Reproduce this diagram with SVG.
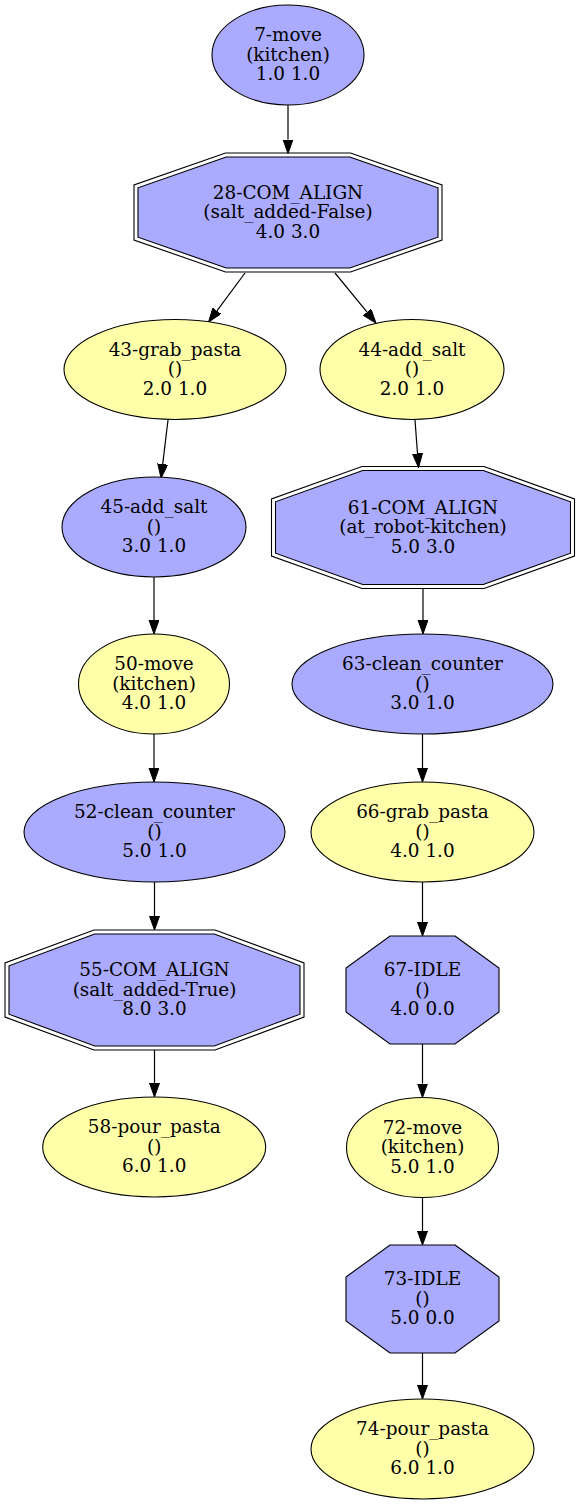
<svg xmlns="http://www.w3.org/2000/svg" width="579" height="1507" viewBox="0 0 579 1507">
<style>
.b{fill:#aaaaff;stroke:#000;stroke-width:1.1}
.y{fill:#ffffaa;stroke:#000;stroke-width:1.1}
.o{fill:none;stroke:#000;stroke-width:1.1}
.e{stroke:#000;stroke-width:1.2;fill:none}
text{font-family:"DejaVu Serif","Liberation Serif",serif;font-size:18.4px;text-anchor:middle;fill:#000}
</style>
<defs>
<marker id="ah" markerUnits="userSpaceOnUse" markerWidth="15" markerHeight="11" refX="0" refY="5" orient="auto" viewBox="0 0 15 11">
<path d="M0,0 L14,5 L0,10 z" fill="#000" stroke="#000" stroke-width="1"/>
</marker>
</defs>
<rect width="579" height="1507" fill="#fff"/>
<g id="connectors">
<line class="e" x1="288" y1="105" x2="288" y2="139.5" marker-end="url(#ah)"/>
<line class="e" x1="245" y1="273" x2="216.9" y2="310.8" marker-end="url(#ah)"/>
<line class="e" x1="335" y1="273" x2="367.1" y2="312.2" marker-end="url(#ah)"/>
<line class="e" x1="168" y1="420" x2="162.7" y2="464.1" marker-end="url(#ah)"/>
<line class="e" x1="415" y1="420" x2="417.5" y2="453.5" marker-end="url(#ah)"/>
<line class="e" x1="154" y1="577" x2="154" y2="620" marker-end="url(#ah)"/>
<line class="e" x1="423" y1="589" x2="423" y2="620" marker-end="url(#ah)"/>
<line class="e" x1="154" y1="734" x2="154" y2="768" marker-end="url(#ah)"/>
<line class="e" x1="422.5" y1="734" x2="422.5" y2="768" marker-end="url(#ah)"/>
<line class="e" x1="154.5" y1="882" x2="154.5" y2="916" marker-end="url(#ah)"/>
<line class="e" x1="422.5" y1="882" x2="422.5" y2="922" marker-end="url(#ah)"/>
<line class="e" x1="154.5" y1="1050" x2="154.5" y2="1083" marker-end="url(#ah)"/>
<line class="e" x1="422.5" y1="1044" x2="422.5" y2="1083.5" marker-end="url(#ah)"/>
<line class="e" x1="422.5" y1="1197" x2="422.5" y2="1231" marker-end="url(#ah)"/>
<line class="e" x1="422.5" y1="1353" x2="422.5" y2="1385" marker-end="url(#ah)"/>
</g>
<g id="n7">
<ellipse class="b" cx="288" cy="55" rx="76" ry="50"/>
<text x="288" y="41">7-move</text><text x="288" y="60.5">(kitchen)</text><text x="288" y="80">1.0 1.0</text>
</g>
<g id="n28">
<polygon class="o" points="350.5,153 442,185 442,240 350.5,272 225.5,272 134,240 134,185 225.5,153"/>
<polygon class="b" points="349.8,157 438,187.8 438,237.2 349.8,268 226.2,268 138,237.2 138,187.8 226.2,157"/>
<text x="288" y="198.5">28-COM_ALIGN</text><text x="288" y="218">(salt_added-False)</text><text x="288" y="237.5">4.0 3.0</text>
</g>
<g id="n43">
<ellipse class="y" cx="175" cy="369.5" rx="111" ry="50"/>
<text x="175" y="355.5">43-grab_pasta</text><text x="175" y="375">()</text><text x="175" y="394.5">2.0 1.0</text>
</g>
<g id="n44">
<ellipse class="y" cx="412" cy="369.5" rx="92" ry="50"/>
<text x="412" y="355.5">44-add_salt</text><text x="412" y="375">()</text><text x="412" y="394.5">2.0 1.0</text>
</g>
<g id="n45">
<ellipse class="b" cx="154" cy="527" rx="92" ry="50"/>
<text x="154" y="513">45-add_salt</text><text x="154" y="532.5">()</text><text x="154" y="552">3.0 1.0</text>
</g>
<g id="n61">
<polygon class="o" points="484,466.5 574.5,499 574.5,556 484,588.5 362,588.5 271.5,556 271.5,499 362,466.5"/>
<polygon class="b" points="483.3,470.5 570.5,501.8 570.5,553.2 483.3,584.5 362.7,584.5 275.5,553.2 275.5,501.8 362.7,470.5"/>
<text x="423" y="513.5">61-COM_ALIGN</text><text x="423" y="533">(at_robot-kitchen)</text><text x="423" y="552.5">5.0 3.0</text>
</g>
<g id="n50">
<ellipse class="y" cx="154" cy="684" rx="75.5" ry="50"/>
<text x="154" y="670">50-move</text><text x="154" y="689.5">(kitchen)</text><text x="154" y="709">4.0 1.0</text>
</g>
<g id="n63">
<ellipse class="b" cx="422.5" cy="684" rx="130.5" ry="50"/>
<text x="422.5" y="670">63-clean_counter</text><text x="422.5" y="689.5">()</text><text x="422.5" y="709">3.0 1.0</text>
</g>
<g id="n52">
<ellipse class="b" cx="154.5" cy="832" rx="130.5" ry="50"/>
<text x="154.5" y="818">52-clean_counter</text><text x="154.5" y="837.5">()</text><text x="154.5" y="857">5.0 1.0</text>
</g>
<g id="n66">
<ellipse class="y" cx="422.5" cy="832" rx="111.5" ry="50"/>
<text x="422.5" y="818">66-grab_pasta</text><text x="422.5" y="837.5">()</text><text x="422.5" y="857">4.0 1.0</text>
</g>
<g id="n55">
<polygon class="o" points="215,930 304,963 304,1017 215,1050 94,1050 5,1017 5,963 94,930"/>
<polygon class="b" points="214.3,934 300,965.8 300,1014.2 214.3,1046 94.7,1046 9,1014.2 9,965.8 94.7,934"/>
<text x="154.5" y="976">55-COM_ALIGN</text><text x="154.5" y="995.5">(salt_added-True)</text><text x="154.5" y="1015">8.0 3.0</text>
</g>
<g id="n58">
<ellipse class="y" cx="154.2" cy="1147" rx="111.5" ry="50"/>
<text x="154.2" y="1133">58-pour_pasta</text><text x="154.2" y="1152.5">()</text><text x="154.2" y="1172">6.0 1.0</text>
</g>
<g id="n67">
<polygon class="b" points="455,936 499,968 499,1012 455,1044 390,1044 346,1012 346,968 390,936"/>
<text x="422.5" y="976">67-IDLE</text><text x="422.5" y="995.5">()</text><text x="422.5" y="1015">4.0 0.0</text>
</g>
<g id="n72">
<ellipse class="y" cx="422.5" cy="1147.5" rx="76" ry="50"/>
<text x="422.5" y="1133.5">72-move</text><text x="422.5" y="1153">(kitchen)</text><text x="422.5" y="1172.5">5.0 1.0</text>
</g>
<g id="n73">
<polygon class="b" points="455,1245 499,1277 499,1321 455,1353 390,1353 346,1321 346,1277 390,1245"/>
<text x="422.5" y="1285">73-IDLE</text><text x="422.5" y="1304.5">()</text><text x="422.5" y="1324">5.0 0.0</text>
</g>
<g id="n74">
<ellipse class="y" cx="422.5" cy="1449" rx="111.5" ry="50"/>
<text x="422.5" y="1435">74-pour_pasta</text><text x="422.5" y="1454.5">()</text><text x="422.5" y="1474">6.0 1.0</text>
</g>
</svg>
